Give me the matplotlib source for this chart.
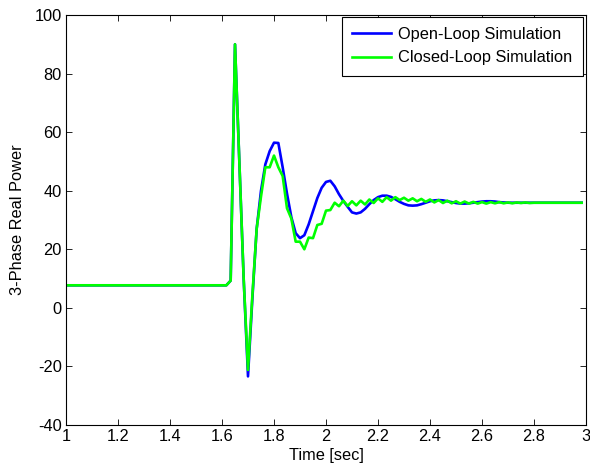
import numpy as np
import matplotlib
matplotlib.use("Agg")
import matplotlib.pyplot as plt

plt.rcParams['font.family'] = ['Liberation Sans', 'DejaVu Sans']
plt.rcParams['axes.unicode_minus'] = False

# sample period 1/60 s starting at t = 1.0
dt = 1.0 / 60.0
pre_value = 7.7
n_pre = 38  # samples k = 0..37 at the steady pre-fault value

open_loop_tail = [9.3, 90.0, 50.0, 10.0, -23.4, 3.0, 27.0, 40.0, 49.0, 53.5,
                  56.4, 56.3, 48.0, 39.0, 31.0, 25.5, 23.8, 24.8, 28.5, 33.0,
                  37.5, 41.0, 43.0, 43.4, 41.5, 38.8, 36.5, 34.5, 32.6, 32.2,
                  32.6, 33.8, 35.4, 36.8, 37.8, 38.3, 38.3, 37.9, 37.1, 36.2,
                  35.5, 35.0, 34.9, 35.0, 35.4, 35.9, 36.4, 36.7, 36.8, 36.7,
                  36.4, 36.1, 35.8, 35.6, 35.6, 35.7, 35.9, 36.1, 36.3, 36.4,
                  36.4, 36.3, 36.1, 36.0, 35.9, 35.9, 35.9, 35.9, 35.9, 35.9,
                  35.9, 35.9, 35.9, 35.9, 35.9, 35.9, 35.9, 35.9, 35.9, 35.9,
                  35.9, 35.9]

closed_loop_tail = [9.3, 90.0, 50.0, 10.0, -21.2, 4.0, 27.0, 38.0, 48.0, 48.0,
                    52.0, 48.0, 45.0, 34.0, 30.5, 22.6, 22.6, 20.0, 24.0, 23.8,
                    28.3, 28.7, 33.2, 33.4, 35.9, 34.7, 36.6, 34.8, 36.4, 35.0,
                    36.6, 35.3, 37.0, 35.8, 37.4, 36.2, 37.8, 36.6, 37.8, 36.8,
                    37.6, 36.6, 37.4, 36.4, 37.2, 36.2, 37.0, 36.0, 36.8, 35.8,
                    36.6, 35.7, 36.4, 35.6, 36.3, 35.6, 36.2, 35.6, 36.1, 35.6,
                    36.1, 35.7, 36.1, 35.7, 36.0, 35.7, 36.0, 35.8, 36.0, 35.8,
                    35.9, 35.9, 35.9, 35.9, 35.9, 35.9, 35.9, 35.9, 35.9, 35.9,
                    35.9, 35.9]

open_loop = np.array([pre_value] * n_pre + open_loop_tail)
closed_loop = np.array([pre_value] * n_pre + closed_loop_tail)
t = 1.0 + np.arange(len(open_loop)) * dt

labels = ["Open-Loop Simulation", "Closed-Loop Simulation"]
xticks = [1, 1.2, 1.4, 1.6, 1.8, 2, 2.2, 2.4, 2.6, 2.8, 3]
xticklabels = ["1", "1.2", "1.4", "1.6", "1.8", "2", "2.2", "2.4", "2.6", "2.8", "3"]
yticks = [-40, -20, 0, 20, 40, 60, 80, 100]

fs = 11.8
fig = plt.figure(figsize=(5.90, 4.66), dpi=100)
ax = fig.add_axes([66 / 590, 1 - 425 / 466, (586 - 66) / 590, (425 - 15) / 466])

ax.plot(t, open_loop, color=(0, 0, 1), lw=1.9, label=labels[0])
ax.plot(t, closed_loop, color=(0, 1, 0), lw=1.9, label=labels[1])

ax.set_xlim(1, 3)
ax.set_ylim(-40, 100)
ax.set_xticks(xticks)
ax.set_xticklabels(xticklabels)
ax.set_yticks(yticks)
ax.tick_params(direction='in', top=True, right=True, labelsize=fs, length=4,
               width=0.6, pad=3)
for s in ax.spines.values():
    s.set_linewidth(0.8)

ax.set_xlabel("Time [sec]", fontsize=fs, labelpad=3)
ax.set_ylabel("3-Phase Real Power", fontsize=fs, labelpad=7)

leg = ax.legend(loc='upper right', fontsize=fs, fancybox=False, framealpha=1,
                edgecolor='black', borderpad=0.62, handlelength=2.4,
                handletextpad=0.45, labelspacing=0.5,
                bbox_to_anchor=(0.994, 0.995), borderaxespad=0.0)
leg.get_frame().set_linewidth(0.8)

fig.savefig("out.png", dpi=100)
